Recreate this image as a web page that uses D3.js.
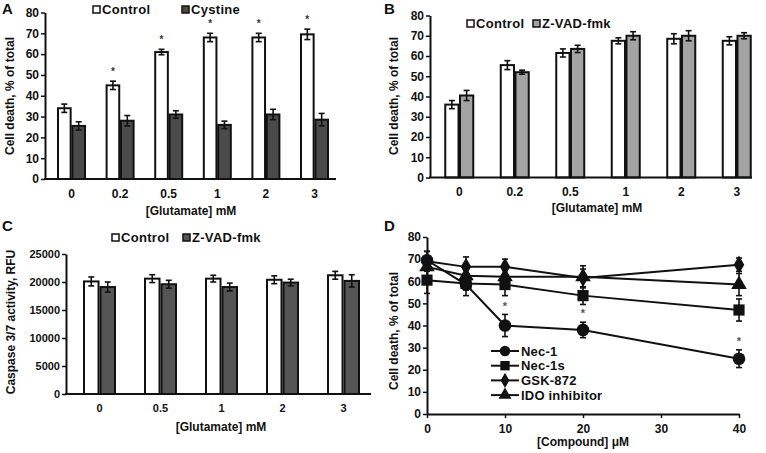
<!DOCTYPE html>
<html><head><meta charset="utf-8">
<script src="https://cdn.jsdelivr.net/npm/d3@7"></script>
<style>body{margin:0;background:#fff} svg{display:block}</style>
</head><body><svg id="c" width="766" height="453"></svg>
<script>
// ---------- DATA ----------
const glutamateAB = ["0","0.2","0.5","1","2","3"];
const aControl    = [34, 45, 61, 68, 68, 69.5];
const aControlErr = [2, 2, 1.3, 2, 2, 2.5];
const aCystine    = [25.5, 28, 31, 26, 31, 28.5];
const aCystineErr = [2, 2.5, 1.8, 1.8, 2.5, 3];
const aSignif     = [false, true, true, true, true, true];

const bControl    = [36, 55.5, 61.5, 67.5, 68.5, 67.5];
const bControlErr = [2, 2.2, 2, 1.5, 2.5, 2];
const bZvad       = [40.5, 52, 63.5, 70, 70, 70];
const bZvadErr    = [2.5, 1, 1.8, 2, 2.5, 1.5];

const glutamateC  = ["0","0.5","1","2","3"];
const cControl    = [20100, 20600, 20600, 20400, 21200];
const cControlErr = [800, 700, 600, 700, 700];
const cZvad       = [19100, 19600, 19100, 19900, 20200];
const cZvadErr    = [900, 700, 700, 600, 1100];

const compoundD   = [0, 5, 10, 20, 40];
const dNec1       = [69.5, 58.5, 40, 38, 25];
const dNec1Err    = [4, 5, 5, 3.5, 4];
const dNec1s      = [60.5, 59, 58.5, 53.5, 47];
const dNec1sErr   = [6, 3, 5, 4, 5];
const dGsk        = [69, 66.5, 66.5, 61.5, 67.5];
const dGskErr     = [4.5, 4.5, 3.5, 4, 3];
const dIdo        = [66.5, 62.5, 62, 62, 58.5];
const dIdoErr     = [5, 3, 3, 5, 5];
const dSignif     = [false, false, true, true, true];

const ticks80 = [0,10,20,30,40,50,60,70,80];
const ticksC  = [0,5000,10000,15000,20000,25000];
const ticksDx = [0,10,20,30,40];

// ---------- DRAW ----------
const FONT = "'Liberation Sans', Arial, Helvetica, sans-serif";
const INK = "#111";
const svg = d3.select("#c");

function txt(g, x, y, s, size, anchor, rot) {
  const t = g.append("text").attr("x", x).attr("y", y).text(s)
    .attr("font-family", FONT).attr("font-weight", "bold").attr("font-size", size)
    .attr("fill", INK).attr("text-anchor", anchor || "start");
  if (rot) t.attr("transform", `rotate(${rot},${x},${y})`);
  return t;
}

function yAxis(x0, y, ticks, size, fmt) {
  const a = svg.append("g").attr("transform", `translate(${x0},0)`)
    .call(d3.axisLeft(y).tickValues(ticks).tickSize(4).tickSizeOuter(0).tickFormat(fmt || d3.format("d")));
  a.attr("font-family", FONT).attr("font-size", size).attr("font-weight", "bold");
  a.select(".domain").attr("stroke", INK).attr("stroke-width", 2);
  a.selectAll(".tick line").attr("stroke", INK).attr("stroke-width", 1.5);
  a.selectAll(".tick text").attr("fill", INK).attr("x", -6);
  return a;
}

function errBar(g, x, y, v, e, cap) {
  g.append("line").attr("x1", x).attr("x2", x).attr("y1", y(v - e)).attr("y2", y(v + e))
    .attr("stroke", INK).attr("stroke-width", 1.6);
  [v - e, v + e].forEach(w => g.append("line").attr("x1", x - cap).attr("x2", x + cap)
    .attr("y1", y(w)).attr("y2", y(w)).attr("stroke", INK).attr("stroke-width", 1.6));
}

function barPanel(o) {
  const x = d3.scaleBand().domain(o.cats).range(o.xr);
  const y = d3.scaleLinear().domain(o.yd).range(o.yr);
  const sub = d3.scaleBand().domain([0, 1]).range([-o.pair / 2, o.pair / 2]).paddingInner(o.gap);
  const g = svg.append("g");
  o.series.forEach((s, si) => {
    o.cats.forEach((c, i) => {
      const cx = x(c) + x.bandwidth() / 2 + sub(si);
      g.append("rect").attr("x", cx).attr("y", y(s.v[i])).attr("width", sub.bandwidth())
        .attr("height", y(0) - y(s.v[i])).attr("fill", s.fill).attr("stroke", INK).attr("stroke-width", 2);
      errBar(g, cx + sub.bandwidth() / 2, y, s.v[i], s.e[i], 3);
    });
  });
  if (o.signif) {
    o.cats.forEach((c, i) => {
      if (!o.signif[i]) return;
      const s = o.series[0];
      const cx = x(c) + x.bandwidth() / 2 + sub(0) + sub.bandwidth() / 2;
      txt(g, cx, y(s.v[i] + s.e[i]) - 6, "*", 10, "middle").attr("fill", "#333");
    });
  }
  yAxis(o.x0, y, o.ticks, o.fs, o.fmt);
  svg.append("line").attr("x1", o.x0 - 1).attr("x2", o.xEnd).attr("y1", y(0)).attr("y2", y(0))
    .attr("stroke", INK).attr("stroke-width", 2);
  const xa = svg.append("g").attr("transform", `translate(0,${y(0)})`)
    .call(d3.axisBottom(x).tickSize(0).tickPadding(o.tp));
  xa.select(".domain").remove();
  xa.attr("font-family", FONT).attr("font-size", o.fs).attr("font-weight", "bold");
  xa.selectAll(".tick text").attr("fill", INK);
  return {x, y};
}

function legendSq(x, y, fill, label, size) {
  svg.append("rect").attr("x", x).attr("y", y - 4).attr("width", 7).attr("height", 7)
    .attr("fill", fill).attr("stroke", INK).attr("stroke-width", 1.5);
  txt(svg, x + 9, y + 4, label, size).attr("letter-spacing", 0.3);
}

// Panel A
barPanel({cats: glutamateAB, xr: [47.2, 338.8], yd: [0, 80], yr: [179, 12.5], pair: 27, gap: 0.12,
  series: [{v: aControl, e: aControlErr, fill: "#fff"}, {v: aCystine, e: aCystineErr, fill: "#4a4a4a"}],
  signif: aSignif, x0: 45, xEnd: 336, ticks: ticks80, fs: 12, tp: 10});
txt(svg, 2, 14, "A", 15);
txt(svg, 14, 96, "Cell death, %  of total", 12, "middle", -90);
txt(svg, 191, 215, "[Glutamate] mM", 12, "middle");
legendSq(93, 10, "#fff", "Control", 13);
legendSq(182, 10, "#4a4a4a", "Cystine", 13);

// Panel B
barPanel({cats: glutamateAB, xr: [431.5, 764.5], yd: [0, 80], yr: [177.5, 15.5], pair: 28, gap: 0.1,
  series: [{v: bControl, e: bControlErr, fill: "#fff"}, {v: bZvad, e: bZvadErr, fill: "#a3a3a3"}],
  x0: 430, xEnd: 752, ticks: ticks80, fs: 12, tp: 10});
txt(svg, 384, 14, "B", 15);
txt(svg, 398, 96, "Cell death, %  of total", 12, "middle", -90);
txt(svg, 597, 212, "[Glutamate] mM", 12, "middle");
legendSq(467, 24, "#fff", "Control", 13);
legendSq(533, 24, "#a3a3a3", "Z-VAD-fmk", 13);

// Panel C
barPanel({cats: glutamateC, xr: [69, 374], yd: [0, 25000], yr: [394, 254], pair: 31, gap: 0.12,
  series: [{v: cControl, e: cControlErr, fill: "#fff"}, {v: cZvad, e: cZvadErr, fill: "#555"}],
  x0: 66, xEnd: 371, ticks: ticksC, fs: 11, tp: 10, fmt: d3.format("d")});
txt(svg, 2, 231, "C", 15);
txt(svg, 15, 322, "Caspase 3/7 activity, RFU", 12, "middle", -90);
txt(svg, 221, 431, "[Glutamate] mM", 12, "middle");
legendSq(112, 238, "#fff", "Control", 13);
legendSq(183, 238, "#555", "Z-VAD-fmk", 13);

// Panel D
(function () {
  const x = d3.scaleLinear().domain([0, 40]).range([427, 739]);
  const y = d3.scaleLinear().domain([0, 80]).range([414, 237]);
  const g = svg.append("g");
  const series = [
    {name: "Nec-1", v: dNec1, e: dNec1Err, sym: d3.symbolCircle, size: 125},
    {name: "Nec-1s", v: dNec1s, e: dNec1sErr, sym: d3.symbolSquare, size: 125},
    {name: "GSK-872", v: dGsk, e: dGskErr, sym: d3.symbolDiamond, size: 95},
    {name: "IDO inhibitor", v: dIdo, e: dIdoErr, sym: d3.symbolTriangle, size: 105}
  ];
  series.forEach(s => s.v.forEach((v, i) => errBar(g, x(compoundD[i]), y, v, s.e[i], 3)));
  series.forEach(s => {
    g.append("path").datum(s.v).attr("fill", "none").attr("stroke", INK).attr("stroke-width", 2)
      .attr("d", d3.line().x((d, i) => x(compoundD[i])).y(d => y(d)));
  });
  series.forEach(s => s.v.forEach((v, i) => g.append("path")
    .attr("d", d3.symbol(s.sym, s.size)()).attr("transform", `translate(${x(compoundD[i])},${y(v)})`).attr("fill", INK)));
  dSignif.forEach((f, i) => {
    if (!f) return;
    txt(g, x(compoundD[i]), y(dNec1[i] + dNec1Err[i] + 4) + 4, "*", 11, "middle").attr("fill", "#555");
  });
  yAxis(427, y, ticks80, 12);
  const xa = svg.append("g").attr("transform", `translate(0,${y(0)})`)
    .call(d3.axisBottom(x).tickValues(ticksDx).tickSize(4).tickSizeOuter(0).tickPadding(6));
  xa.attr("font-family", FONT).attr("font-size", 12).attr("font-weight", "bold");
  xa.select(".domain").attr("stroke", INK).attr("stroke-width", 2);
  xa.selectAll(".tick line").attr("stroke", INK).attr("stroke-width", 1.5);
  xa.selectAll(".tick text").attr("fill", INK);
  txt(svg, 384, 231, "D", 15);
  txt(svg, 398, 331, "Cell death, %  of total", 12, "middle", -90);
  txt(svg, 583, 446, "[Compound]  μM", 12, "middle");
  series.forEach((s, k) => {
    const ly = 351 + k * 14.7;
    svg.append("line").attr("x1", 491).attr("x2", 519).attr("y1", ly).attr("y2", ly)
      .attr("stroke", INK).attr("stroke-width", 2);
    svg.append("path").attr("d", d3.symbol(s.sym, s.size * 0.7)())
      .attr("transform", `translate(505,${ly})`).attr("fill", INK);
    txt(svg, 521, ly + 4.5, s.name, 13).attr("letter-spacing", 0.2);
  });
})();
</script></body></html>
